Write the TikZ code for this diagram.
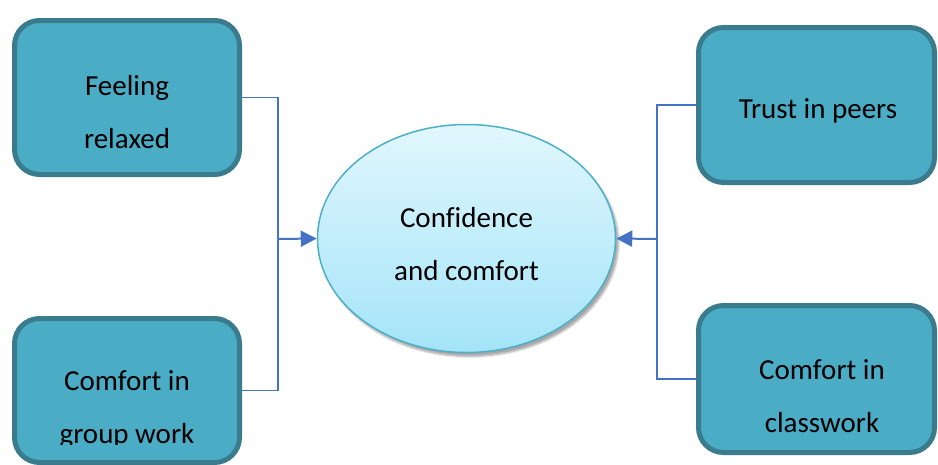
\documentclass[tikz,border=0pt]{standalone}
\usepackage{fontspec}
\setmainfont[Ligatures={NoCommon}]{Carlito}
\usetikzlibrary{shapes.geometric,arrows.meta,shadows.blur}
\definecolor{boxfill}{HTML}{4BACC6}
\definecolor{boxedge}{HTML}{3A7C8E}
\definecolor{elltop}{HTML}{E1F7FD}
\definecolor{ellbot}{HTML}{A4E4F8}
\definecolor{elledge}{HTML}{4DAFC8}
\definecolor{linkblue}{HTML}{4472C4}
\tikzset{
  topicbox/.style={draw=boxedge, fill=boxfill, line width=5pt, rounded corners=25pt,
    inner sep=0pt},
  topictext/.style={font=\fontsize{29}{53}\selectfont, align=center, inner sep=0pt},
  hub/.style={ellipse, draw=elledge, line width=1.5pt, top color=elltop, bottom color=ellbot,
    minimum width=298pt, minimum height=228pt, inner sep=0pt,
    blur shadow={shadow xshift=3pt, shadow yshift=-4pt, shadow blur steps=6, shadow opacity=35}},
  link/.style={draw=linkblue, line width=1.5pt},
  feed/.style={draw=linkblue, line width=2pt, -{Triangle[length=16pt,width=16pt]}}
}
\begin{document}
\begin{tikzpicture}[x=1pt, y=-1pt]
\useasboundingbox (0,0) rectangle (938,464);
% outer topic boxes
\node[topicbox, minimum width=225pt, minimum height=154pt] (tl) at (127,97.5) {};
\node[topicbox, minimum width=225pt, minimum height=144pt] (bl) at (127,390.5) {};
\node[topicbox, minimum width=236pt, minimum height=155pt] (tr) at (816.5,105) {};
\node[topicbox, minimum width=236pt, minimum height=147pt] (br) at (816.5,379) {};
% labels of the topic boxes
\node[topictext] (tlt) at (127,112) {Feeling\\relaxed};
\node[topictext] (trt) at (818,111) {Trust in peers};
\node[topictext] (brt) at (822,396) {Comfort in\\classwork};
\begin{scope}
  \clip (0,0) rectangle (938,444);
  \node[topictext] (blt) at (127,410) {Comfort in\\group work};
\end{scope}
% central idea
\node[hub] (hub) at (466.5,238.5) {};
\node[topictext] (hubt) at (466.5,244) {Confidence\\and comfort};
% connectors
\coordinate (jl) at (278,239);
\coordinate (jr) at (657,239);
\draw[link] (tl.east) -| (jl) |- (bl.east);
\draw[link] (tr.west) -| (jr) |- (br.west);
\draw[feed] (jl) -- (hub.west);
\draw[feed] (jr) -- (hub.east);
\end{tikzpicture}
\end{document}
